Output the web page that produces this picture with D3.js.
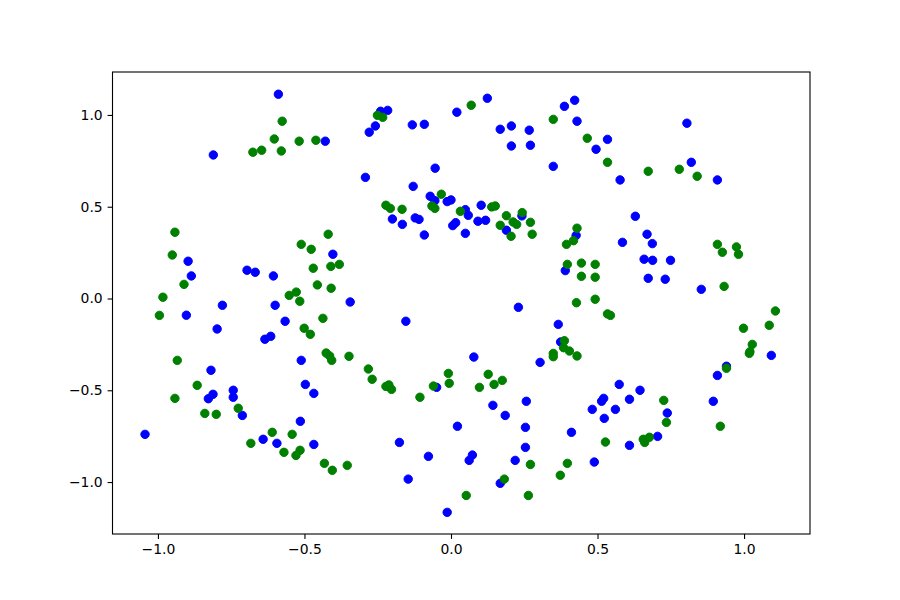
<!DOCTYPE html>
<html>
<head>
<meta charset="utf-8">
<script src="https://cdn.jsdelivr.net/npm/d3@7"></script>
<style>
	body { margin: 0; background: #fff; }
	svg text { font-family: "DejaVu Sans", sans-serif; font-size: 13.9px; fill: #000; }
</style>
</head>
<body>
<div id="chart"></div>
<script>
// points, [x, y]
var bluePoints = [
	[-0.589,1.113],[-0.811,0.782],[-0.429,0.857],[-0.897,0.203],[-0.886,0.123],[-0.696,0.154],
	[-0.668,0.143],[-0.606,0.123],[-0.403,0.241],[-0.780,-0.037],[-0.600,-0.037],[-0.344,-0.019],
	[-0.240,1.020],[-0.216,1.025],[-0.258,0.940],[-0.279,0.906],[-0.132,0.946],[-0.091,0.949],
	[0.020,1.015],[0.124,1.091],[0.168,0.922],[0.206,0.940],[0.267,0.917],[0.206,0.831],
	[0.271,0.835],[0.387,1.047],[0.422,1.080],[0.430,0.966],[0.349,0.720],[-0.054,0.710],
	[-0.292,0.660],[-0.129,0.611],[-0.071,0.557],[-0.055,0.533],[-0.013,0.528],[0.000,0.537],
	[-0.200,0.433],[-0.166,0.404],[-0.122,0.439],[-0.109,0.431],[-0.091,0.346],[0.049,0.484],
	[0.059,0.453],[0.006,0.397],[0.016,0.413],[0.049,0.355],[0.103,0.508],[0.092,0.421],
	[0.118,0.426],[0.189,0.372],[0.242,0.450],[0.427,0.344],[0.390,0.152],
	[0.805,0.955],[0.534,0.867],[0.495,0.813],[0.577,0.646],[0.820,0.742],[0.909,0.646],
	[0.629,0.448],[0.585,0.306],[0.669,0.350],[0.687,0.299],[0.659,0.214],[0.688,0.208],
	[0.749,0.208],[0.673,0.110],[0.731,0.105],[0.854,0.050],
	[-0.903,-0.091],[-0.798,-0.166],[-0.566,-0.124],[-0.635,-0.222],[-0.615,-0.206],[-0.511,-0.337],
	[-0.819,-0.391],[-0.812,-0.522],[-0.828,-0.546],[-0.743,-0.500],[-0.743,-0.538],[-0.712,-0.637],
	[-1.044,-0.740],[-0.497,-0.468],[-0.468,-0.517],[-0.514,-0.669],[-0.641,-0.767],[-0.594,-0.789],
	[-0.468,-0.795],
	[-0.154,-0.124],[0.230,-0.048],[0.366,-0.141],[0.374,-0.237],[0.078,-0.319],[0.304,-0.348],
	[-0.049,-0.484],[0.143,-0.582],[0.185,-0.637],[0.257,-0.560],[0.254,-0.702],[0.254,-0.811],
	[0.219,-0.882],[0.411,-0.729],[0.022,-0.696],[-0.176,-0.784],[-0.077,-0.860],[0.073,-0.853],
	[0.062,-0.882],[-0.146,-0.984],[0.168,-1.007],[-0.013,-1.165],
	[0.574,-0.468],[0.645,-0.500],[0.609,-0.549],[0.514,-0.560],[0.521,-0.544],[0.482,-0.604],
	[0.561,-0.604],[0.523,-0.653],[0.738,-0.624],[0.705,-0.751],[0.609,-0.800],[0.489,-0.891],
	[0.940,-0.369],[0.909,-0.419],[0.895,-0.560],[1.093,-0.310]
];

var greenPoints = [
	[-0.576,0.966],[-0.603,0.869],[-0.676,0.797],[-0.646,0.808],[-0.579,0.804],[-0.518,0.857],
	[-0.461,0.862],[-0.942,0.361],[-0.951,0.237],[-0.911,0.077],[-0.983,0.007],[-0.419,0.350],
	[-0.511,0.295],[-0.477,0.268],[-0.470,0.165],[-0.410,0.175],[-0.381,0.186],[-0.456,0.074],
	[-0.409,0.056],[-0.552,0.017],[-0.528,0.035],[-0.516,-0.015],
	[-0.251,0.998],[-0.233,0.987],[0.069,1.053],[0.349,0.976],[-0.033,0.568],[-0.065,0.504],
	[-0.055,0.491],[-0.222,0.508],[-0.207,0.491],[-0.167,0.486],[0.032,0.475],[0.139,0.499],
	[0.151,0.504],[0.189,0.451],[0.168,0.399],[0.212,0.417],[0.224,0.404],[0.243,0.468],
	[0.271,0.415],[0.277,0.350],[0.205,0.339],[0.430,0.383],[0.418,0.315],[0.394,0.295],
	[0.397,0.186],
	[0.445,0.193],[0.492,0.186],[0.445,0.121],[0.492,0.116],[0.428,-0.023],[0.492,-0.004],
	[0.465,0.873],[0.534,0.742],[0.673,0.693],[0.779,0.704],[0.840,0.666],[0.909,0.295],
	[0.926,0.252],[0.974,0.281],[0.981,0.241],[0.932,0.066],
	[-0.995,-0.092],[-0.437,-0.108],[-0.501,-0.162],[-0.480,-0.195],[-0.934,-0.337],[-0.426,-0.297],
	[-0.414,-0.313],[-0.407,-0.337],[-0.348,-0.315],[-0.866,-0.473],[-0.942,-0.544],[-0.840,-0.626],
	[-0.801,-0.631],[-0.726,-0.598],[-0.683,-0.789],[-0.610,-0.729],[-0.542,-0.740],[-0.570,-0.838],
	[-0.515,-0.827],[-0.529,-0.855],[-0.432,-0.898],[-0.405,-0.936],[-0.354,-0.909],
	[-0.282,-0.384],[-0.269,-0.440],[-0.222,-0.479],[-0.212,-0.471],[-0.203,-0.495],[-0.106,-0.538],
	[-0.060,-0.477],[-0.009,-0.408],[-0.006,-0.462],[0.097,-0.484],[0.127,-0.413],[0.147,-0.468],
	[0.175,-0.446],[0.349,-0.299],[0.349,-0.317],[0.387,-0.230],[0.384,-0.268],[0.404,-0.286],
	[0.430,-0.313],[0.271,-0.904],[0.397,-0.898],[0.373,-0.963],[0.182,-0.984],[0.052,-1.073],
	[0.264,-1.073],
	[0.534,-0.084],[0.544,-0.092],[0.726,-0.555],[0.735,-0.675],[0.656,-0.767],[0.677,-0.756],
	[0.661,-0.784],[0.527,-0.782],[1.107,-0.068],[0.998,-0.162],[1.086,-0.146],[1.028,-0.250],
	[1.018,-0.299],[1.020,-0.290],[0.940,-0.380],[0.919,-0.696]
];

var xTicks = [-1.0, -0.5, 0.0, 0.5, 1.0];
var yTicks = [-1.0, -0.5, 0.0, 0.5, 1.0];
var xDomain = [-1.155, 1.225];
var yDomain = [-1.283, 1.234];

var W = 900, H = 600;
var margin = { top: 72, right: 90, bottom: 66, left: 112.5 };
var w = W - margin.left - margin.right,
	h = H - margin.top - margin.bottom;

var svg = d3.select('#chart').append('svg')
	.attr('width', W)
	.attr('height', H);

var g = svg.append('g')
	.attr('transform', 'translate(' + margin.left + ',' + margin.top + ')');

var x = d3.scaleLinear().domain(xDomain).range([0, w]);
var y = d3.scaleLinear().domain(yDomain).range([h, 0]);

// matplotlib style number: one decimal, real minus sign
var fmt = function(d) { return d3.format('.1f')(d).replace('-', '\u2212'); };

// points - blue first, green on top
function drawDots(data, colour) {
	g.append('g').selectAll('circle')
		.data(data)
		.enter()
		.append('circle')
		.attr('cx', function(d) { return x(d[0]); })
		.attr('cy', function(d) { return y(d[1]); })
		.attr('r', 4.2)
		.style('fill', colour)
		.style('stroke', colour)
		.style('stroke-width', 1);
}
drawDots(bluePoints, '#0000ff');
drawDots(greenPoints, '#008000');

// axes
var xAxis = g.append('g')
	.attr('transform', 'translate(0,' + h + ')')
	.call(d3.axisBottom(x).tickValues(xTicks).tickFormat(fmt).tickSizeOuter(0).tickSize(4.9).tickPadding(4.9));
var yAxis = g.append('g')
	.call(d3.axisLeft(y).tickValues(yTicks).tickFormat(fmt).tickSizeOuter(0).tickSize(4.9).tickPadding(4.9));

[xAxis, yAxis].forEach(function(a) {
	a.select('.domain').remove();
	a.selectAll('.tick line').style('stroke', '#000').style('stroke-width', 1.1);
	a.selectAll('.tick text').style('font-family', '"DejaVu Sans", sans-serif').style('font-size', '13.9px');
});

// frame
g.append('rect')
	.attr('x', 0)
	.attr('y', 0)
	.attr('width', w)
	.attr('height', h)
	.style('fill', 'none')
	.style('stroke', '#000')
	.style('stroke-width', 1.1);
</script>
</body>
</html>
